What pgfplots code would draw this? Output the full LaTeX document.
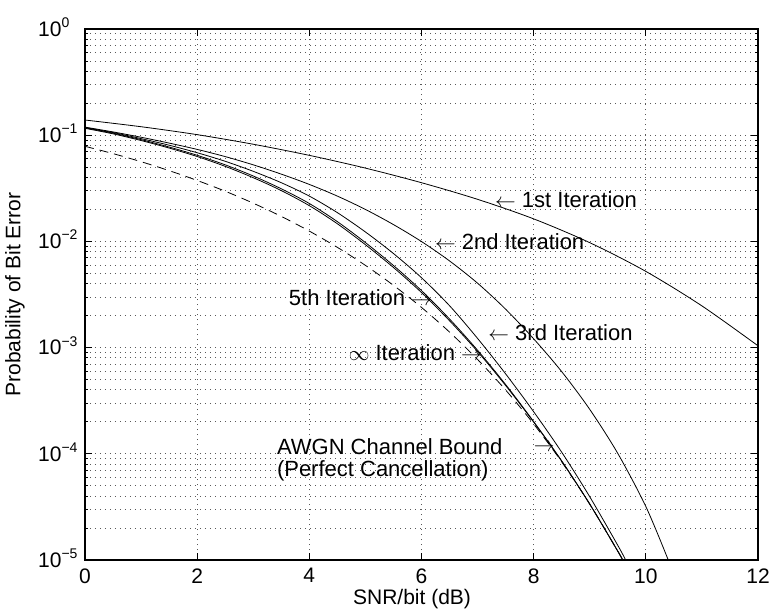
\documentclass[border=0pt]{standalone}
\usepackage{fontspec}
\setmainfont{Liberation Sans}
\usepackage{pgfplots}
\pgfplotsset{compat=1.18}
\newcommand{\expo}[1]{\smash{\raisebox{0.42em}{\fontsize{14bp}{14bp}\selectfont #1}}}
\begin{document}
\begin{tikzpicture}[font=\fontsize{21bp}{25bp}\selectfont]
\begin{axis}[
  scale only axis, width=673bp, height=531bp,
  at={(0,0)}, anchor=south west,
  xmin=0, xmax=12, ymode=log, ymin=1e-5, ymax=1,
  xtick={0,2,4,6,8,10,12},
  xticklabels={0,2,4,6,8,10,12},
  ytick={1e-5,1e-4,1e-3,1e-2,1e-1,1},
  yticklabels={10\expo{−5},10\expo{−4},10\expo{−3},10\expo{−2},10\expo{−1},10\expo{0}},
  minor ytick={2e-5,3e-5,4e-5,5e-5,6e-5,7e-5,8e-5,9e-5,
               2e-4,3e-4,4e-4,5e-4,6e-4,7e-4,8e-4,9e-4,
               2e-3,3e-3,4e-3,5e-3,6e-3,7e-3,8e-3,9e-3,
               2e-2,3e-2,4e-2,5e-2,6e-2,7e-2,8e-2,9e-2,
               2e-1,3e-1,4e-1,5e-1,6e-1,7e-1,8e-1,9e-1},
  grid=both,
  major grid style={black!65, line width=0.8bp, dash pattern=on 0.8bp off 4.2bp},
  minor grid style={black!65, line width=0.8bp, dash pattern=on 0.8bp off 4.2bp},
  axis line style={line width=1.1bp},
  tick style={black, line width=0.8bp},
  major tick length=7bp, minor tick length=3.5bp,
  tick align=inside,
  xlabel={SNR/bit (dB)}, ylabel={Probability of Bit Error},
  xlabel style={at={(axis description cs:0.486,-0.074)}, anchor=center, inner sep=0pt},
  ylabel style={at={(axis description cs:-0.104,0.5)}, anchor=center, inner sep=0pt},
  xticklabel style={yshift=-5bp},
  yticklabel style={anchor=west, xshift=-47bp, inner sep=0pt},
]
% 1st iteration
\addplot[black, line width=0.8bp, smooth] coordinates {
(0,0.139) (1,0.1202) (2,0.1012) (3,0.0822) (4,0.0646) (5,0.0490) (6,0.0357)
(7,0.0249) (8,0.0163) (9,0.00973) (10,0.00522) (11,0.00247) (12,0.00104)};
% 2nd iteration
\addplot[black, line width=0.8bp, smooth] coordinates {
(0,0.1191) (0.5,0.1074) (1,0.0957) (1.5,0.0843) (2,0.0735) (2.5,0.0629) (3,0.0526)
(3.5,0.0430) (4,0.0344) (4.5,0.0267) (5,0.0200) (5.5,0.0144) (6,0.00997)
(6.5,0.00655) (7,0.00404) (7.5,0.00230) (8,0.00121) (8.5,5.94e-4) (9,2.62e-4)
(9.5,1.008e-4) (10,3.19e-5) (10.4,1e-5)};
% 3rd iteration
\addplot[black, line width=0.8bp, smooth] coordinates {
(0,0.1180) (0.5,0.1059) (1,0.0929) (1.5,0.0805) (2,0.0684) (2.5,0.0568) (3,0.0457)
(3.5,0.0357) (4,0.0267) (4.5,0.01866) (5,0.01227) (5.5,0.00769) (6,0.00455)
(6.5,0.00248) (7,0.00122) (7.5,5.66e-4) (8,2.49e-4) (8.5,1.035e-4) (9,3.94e-5)
(9.5,1.374e-5) (9.64,1e-5)};
% 5th iteration
\addplot[black, line width=0.8bp, smooth] coordinates {
(0,0.1175) (0.5,0.1045) (1,0.0908) (1.5,0.0774) (2,0.0647) (2.5,0.0526) (3,0.0413)
(3.5,0.0313) (4,0.02275) (4.5,0.01535) (5,0.00975) (5.5,0.00593) (6,0.00344)
(6.5,0.00186) (7,9.44e-4) (7.5,4.49e-4) (8,2.01e-4) (8.5,8.57e-5) (9,3.36e-5)
(9.5,1.21e-5) (9.6,9.74e-6)};
% infinite iteration
\addplot[black, line width=0.8bp, smooth] coordinates {
(0,0.1161) (0.5,0.1030) (1,0.0891) (1.5,0.0757) (2,0.0630) (2.5,0.0509) (3,0.0398)
(3.5,0.0301) (4,0.0217) (4.5,0.01466) (5,0.00931) (5.5,0.00568) (6,0.00330)
(6.5,0.00179) (7,9.18e-4) (7.5,4.40e-4) (8,1.99e-4) (8.5,8.51e-5) (9,3.36e-5)
(9.5,1.21e-5) (9.6,9.74e-6)};
% AWGN bound
\addplot[black, line width=0.8bp, smooth, dash pattern=on 9bp off 6bp] coordinates {
(0,0.0786) (0.5,0.0671) (1,0.0563) (1.5,0.0464) (2,0.0375) (2.5,0.0297) (3,0.0229)
(3.5,0.0172) (4,0.0125) (4.5,0.00879) (5,0.00595) (5.5,0.00386) (6,0.00239)
(6.5,0.00140) (7,7.73e-4) (7.5,3.99e-4) (8,1.91e-4) (8.5,8.40e-5) (9,3.36e-5)
(9.5,1.21e-5) (9.6,9.74e-6)};
\begin{scope}[font=\fontsize{22bp}{26bp}\selectfont]
\node[anchor=west, inner sep=0pt] at (axis cs:7.31,0.0245) {$\leftarrow$ 1st Iteration};
\node[anchor=west, inner sep=0pt] at (axis cs:6.24,0.00986) {$\leftarrow$ 2nd Iteration};
\node[anchor=east, inner sep=0pt] at (axis cs:6.19,0.00293) {5th Iteration $\rightarrow$};
\node[anchor=west, inner sep=0pt] at (axis cs:7.19,0.00137) {$\leftarrow$ 3rd Iteration};
\node[anchor=east, inner sep=0pt] at (axis cs:7.08,8.9e-4) {$\infty$ Iteration $\rightarrow$};
\node[anchor=west, inner sep=0pt] at (axis cs:3.42,1.16e-4) {AWGN Channel Bound};
\node[anchor=west, inner sep=0pt] at (axis cs:3.42,6.89e-5) {(Perfect Cancellation)};
\node[inner sep=0pt] at (axis cs:8.19,1.13e-4) {$\rightarrow$};
\end{scope}
\end{axis}
\pgfresetboundingbox
\path (-85bp,-51bp) rectangle (686bp,560bp);
\end{tikzpicture}
\end{document}
